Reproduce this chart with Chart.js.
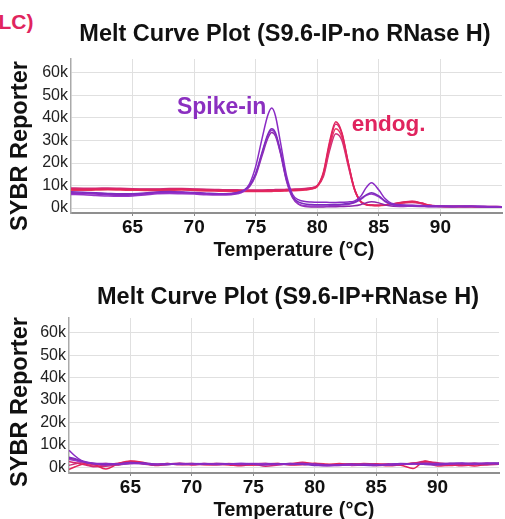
<!DOCTYPE html>
<html>
<head>
<meta charset="utf-8">
<script src="https://cdn.jsdelivr.net/npm/chart.js@4.4.1/dist/chart.umd.min.js"></script>
<style>
  body { margin: 0; background: #fff; }
  #wrap { position: relative; width: 505px; height: 519px; overflow: hidden; font-family: "Liberation Sans", Arial, sans-serif; }
  canvas { position: absolute; left: 0; }
  .txt { position: absolute; white-space: nowrap; line-height: 1; font-weight: bold; color: #111; }
  .title { font-size: 23.5px; transform: translateX(-50%); }
  .xtitle { font-size: 20px; transform: translateX(-50%); }
  .ytitle { font-size: 23.5px; transform: translate(-50%, -50%) rotate(-90deg); }
</style>
</head>
<body>
<div id="wrap">
  <div class="txt" style="left:-1.5px; top:11px; font-size:21px; color:#e0245e;">LC)</div>

  <canvas id="topChart" width="505" height="262" style="top:0"></canvas>
  <canvas id="bottomChart" width="505" height="257" style="top:262px"></canvas>

  <div class="txt title" style="left:285px; top:22px;">Melt Curve Plot (S9.6-IP-no RNase H)</div>
  <div class="txt xtitle" style="left:294px; top:238.5px;">Temperature (°C)</div>
  <div class="txt ytitle" style="left:20px; top:146px;">SYBR Reporter</div>

  <div class="txt title" style="left:288px; top:284.5px;">Melt Curve Plot (S9.6-IP+RNase H)</div>
  <div class="txt xtitle" style="left:294px; top:499px;">Temperature (°C)</div>
  <div class="txt ytitle" style="left:20px; top:402px;">SYBR Reporter</div>
</div>

<script>
// x / y ticks (temperature in °C, reporter in thousands)
const xTicks = [65, 70, 75, 80, 85, 90];
const yTicks = [0, 10, 20, 30, 40, 50, 60];

// ---------- top panel: S9.6-IP, no RNase H ----------
const tempTop = [60, 61, 62, 63, 64, 65, 66, 67, 68, 69, 70, 71, 72, 73,
  73.5, 74, 74.5, 75, 75.5, 76, 76.3, 76.6, 77, 77.5, 78, 78.5, 79, 79.5, 80, 80.5,
  81, 81.5, 82, 82.5, 83, 83.5, 84, 84.4, 85, 85.5, 86, 87, 87.7, 88.5, 89, 90, 91, 92, 93, 94, 95];

// spike-in wells (purple)
const spikeA = [6.6, 6.4, 6.2, 5.9, 5.7, 5.8, 6.2, 6.8, 7.0, 6.9, 6.6, 6.3, 6.1, 6.2,
  6.6, 7.6, 10.8, 18.5, 30.5, 41.5, 44.4, 41.0, 29.5, 14.5, 6.0, 3.6, 2.9, 2.7, 2.6, 2.6,
  2.5, 2.5, 2.6, 2.7, 3.1, 5.0, 9.3, 11.2, 8.0, 4.2, 2.2, 1.4, 1.2, 1.1, 1.0, 0.9, 0.8, 0.9, 0.8, 0.7, 0.6];
const spikeB = [7.2, 7.0, 6.8, 6.5, 6.3, 6.4, 6.7, 7.1, 7.3, 7.1, 6.9, 6.6, 6.4, 6.5,
  6.9, 7.8, 10.0, 15.5, 24.5, 33.0, 35.2, 33.5, 25.5, 13.0, 5.2, 2.6, 1.8, 1.6, 1.5, 1.5,
  1.5, 1.6, 1.7, 2.0, 2.6, 4.0, 6.0, 6.8, 5.4, 3.2, 1.8, 1.2, 1.1, 1.0, 0.9, 0.8, 0.8, 0.7, 0.8, 0.6, 0.5];
const spikeC = [6.0, 5.9, 5.6, 5.3, 5.2, 5.4, 5.8, 6.3, 6.5, 6.4, 6.2, 5.9, 5.8, 5.9,
  6.3, 7.3, 9.8, 15.0, 24.0, 32.3, 34.5, 32.8, 25.0, 12.5, 4.8, 1.8, 1.0, 0.9, 0.9, 0.9,
  1.0, 1.1, 1.3, 1.6, 2.3, 3.8, 5.6, 6.2, 5.0, 2.9, 1.5, 0.9, 0.9, 0.8, 0.7, 0.7, 0.6, 0.7, 0.6, 0.5, 0.5];
const spikeD = [6.8, 6.6, 6.5, 6.2, 6.0, 6.1, 6.5, 6.9, 7.2, 7.0, 6.7, 6.4, 6.3, 6.4,
  6.8, 7.6, 9.6, 14.5, 23.0, 31.2, 33.5, 32.0, 24.5, 12.0, 4.5, 1.6, 0.7, 0.5, 0.5, 0.5,
  0.6, 0.6, 0.7, 0.8, 1.0, 1.5, 2.4, 2.8, 2.3, 1.4, 0.9, 0.7, 0.8, 0.7, 0.6, 0.6, 0.5, 0.6, 0.5, 0.4, 0.4];

// endogenous wells (red)
const endoA = [8.3, 8.2, 8.3, 8.4, 8.3, 8.2, 8.1, 8.0, 8.2, 8.3, 8.1, 7.9, 7.8, 7.7,
  7.7, 7.6, 7.6, 7.5, 7.5, 7.6, 7.6, 7.7, 7.7, 7.8, 7.9, 8.0, 8.2, 8.6, 9.8, 16.0,
  29.5, 38.3, 33.5, 20.5, 8.8, 3.0, 1.5, 1.2, 1.1, 1.3, 1.7, 2.6, 2.9, 2.1, 1.3, 0.8, 0.7, 0.7, 0.6, 0.6, 0.5];
const endoB = [8.6, 8.5, 8.6, 8.6, 8.5, 8.4, 8.3, 8.3, 8.5, 8.5, 8.3, 8.1, 8.0, 7.9,
  7.9, 7.8, 7.8, 7.8, 7.8, 7.9, 7.9, 8.0, 8.0, 8.1, 8.2, 8.3, 8.5, 8.9, 10.0, 15.5,
  28.5, 37.3, 33.0, 20.5, 9.0, 3.2, 1.6, 1.3, 1.2, 1.4, 1.8, 2.7, 3.0, 2.2, 1.4, 0.9, 0.8, 0.8, 0.7, 0.7, 0.6];
const endoC = [7.9, 7.9, 8.0, 8.1, 8.0, 7.9, 7.8, 7.7, 7.9, 8.0, 7.8, 7.6, 7.5, 7.4,
  7.4, 7.3, 7.3, 7.3, 7.3, 7.4, 7.4, 7.5, 7.5, 7.6, 7.7, 7.8, 8.0, 8.4, 9.5, 14.8,
  27.0, 35.2, 31.5, 19.8, 8.6, 2.9, 1.4, 1.1, 1.0, 1.2, 1.6, 2.4, 2.7, 2.0, 1.2, 0.7, 0.6, 0.6, 0.5, 0.5, 0.4];
const endoD = [8.9, 8.8, 8.8, 8.9, 8.8, 8.6, 8.5, 8.5, 8.7, 8.7, 8.5, 8.3, 8.2, 8.1,
  8.1, 8.0, 8.0, 8.0, 8.0, 8.1, 8.1, 8.2, 8.2, 8.3, 8.4, 8.5, 8.7, 9.0, 9.9, 14.0,
  25.5, 33.0, 30.0, 19.0, 8.5, 3.1, 1.6, 1.3, 1.2, 1.3, 1.6, 2.2, 2.5, 1.9, 1.2, 0.8, 0.7, 0.7, 0.6, 0.6, 0.5];

// ---------- bottom panel: S9.6-IP + RNase H ----------
const tempBottom = [60, 60.5, 61, 61.5, 62, 63, 64, 65, 66, 67, 68, 69, 70, 71, 72, 73, 74, 75, 76,
  77, 78, 79, 80, 81, 82, 83, 84, 85, 86, 87, 88, 89, 90, 91, 92, 93, 94, 95];

const rnhSpikeA = [7.6, 5.0, 3.0, 2.2, 1.8, 1.6, 1.5, 1.9, 1.7, 1.3, 1.5, 1.6, 1.4, 1.5, 1.3, 1.4, 1.6, 1.5, 1.2,
  1.3, 1.4, 1.6, 1.2, 0.9, 1.0, 1.2, 1.1, 1.0, 1.3, 1.5, 1.4, 1.8, 1.6, 1.5, 1.7, 1.8, 1.6, 1.4];
const rnhSpikeB = [4.5, 3.8, 2.8, 2.0, 1.7, 1.2, 1.4, 2.1, 1.8, 1.1, 1.3, 1.5, 1.6, 1.4, 1.2, 1.5, 1.7, 1.3, 1.1,
  1.4, 1.6, 1.3, 0.8, 0.7, 1.1, 1.3, 0.9, 0.8, 1.2, 1.6, 1.5, 1.4, 1.2, 1.7, 1.9, 1.5, 1.6, 1.8];
const rnhSpikeC = [3.5, 3.0, 2.4, 1.9, 1.5, 1.0, 1.3, 1.7, 1.5, 1.2, 1.4, 1.3, 1.5, 1.6, 1.4, 1.3, 1.4, 1.6, 1.4,
  1.2, 1.5, 1.7, 1.1, 0.6, 0.9, 1.0, 1.2, 0.9, 1.1, 1.3, 1.6, 1.2, 1.0, 1.4, 1.6, 1.3, 1.9, 1.6];
const rnhSpikeD = [4.0, 3.4, 2.6, 2.1, 1.6, 1.4, 1.1, 1.6, 2.0, 1.4, 1.1, 1.7, 1.5, 1.3, 1.6, 1.5, 1.2, 1.4, 1.7,
  1.5, 1.2, 1.3, 1.4, 1.0, 0.8, 1.1, 1.4, 1.2, 0.9, 1.2, 1.7, 1.3, 1.5, 1.8, 1.4, 1.7, 1.5, 1.9];

const rnhEndoA = [-1.0, 0.2, 1.2, 1.6, 1.3, -0.8, 1.5, 2.8, 2.2, 0.9, 1.4, 1.8, 1.2, 1.6, 1.3, 1.0, 0.6, 1.5, 1.7,
  1.2, 1.4, 2.2, 1.3, 1.1, 1.7, 0.8, 1.0, 1.5, 1.1, 0.9, -0.6, 2.8, 1.4, 0.7, 1.2, 0.5, 1.3, 1.6];
const rnhEndoB = [2.5, 2.0, 1.4, 0.8, 0.5, 0.9, 1.8, 2.4, 1.6, 1.2, 1.7, 1.3, 1.0, 1.4, 1.7, 1.5, 1.1, 1.3, 0.4,
  1.0, 1.6, 1.9, 1.5, 0.8, 1.3, 1.5, 1.2, 0.7, 1.0, 1.4, 1.6, 2.4, 2.0, 1.3, 0.6, 1.1, 1.8, 1.5];
const rnhEndoC = [4.2, 3.3, 2.3, 1.6, 1.2, 1.6, 1.0, 2.6, 1.9, 0.8, 1.2, 1.5, 1.7, 1.1, 1.0, 1.6, 1.3, 0.9, 1.4,
  1.6, 1.0, 1.3, 1.8, 1.4, 0.9, 1.2, 1.6, 1.3, 0.6, 1.1, 1.9, 2.0, 0.5, 1.0, 1.5, 1.8, 1.2, 1.7];
const rnhEndoD = [0.8, 1.5, 2.0, 1.1, 0.2, 0.4, 1.2, 2.3, 1.4, 1.0, 1.6, 1.1, 1.4, 1.2, 1.5, 1.3, 1.4, 1.1, 1.3,
  1.7, 1.2, 1.1, 1.6, 1.0, 1.2, 1.4, 0.9, 1.1, 1.5, 1.2, 1.8, 2.6, 1.1, 0.9, 1.4, 1.2, 1.0, 1.3];

const purpleShades = ["#8a2bc4", "#7c2dbd", "#9a36c9", "#8e27ab"];
const redShades = ["#e3245c", "#d72770", "#ea3660", "#cc2f7c"];
const FONT = '"Liberation Sans", Arial, sans-serif';

// text labels placed in data units
const notesPlugin = {
  id: "notes",
  afterDatasetsDraw(chart, args, opts) {
    const { ctx, scales } = chart;
    (opts.items || []).forEach(n => {
      ctx.save();
      ctx.font = "bold " + n.size + "px " + FONT;
      ctx.fillStyle = n.color;
      ctx.textBaseline = "alphabetic";
      ctx.fillText(n.text, scales.x.getPixelForValue(n.x), scales.y.getPixelForValue(n.y));
      ctx.restore();
    });
  }
};

function toPoints(temps, vals) {
  return temps.map((t, i) => ({ x: t, y: vals[i] }));
}

function makeSets(temps, purpleList, redList) {
  const sets = [];
  purpleList.forEach((s, i) => sets.push({ data: toPoints(temps, s), borderColor: purpleShades[i] }));
  redList.forEach((s, i) => sets.push({ data: toPoints(temps, s), borderColor: redShades[i] }));
  return sets;
}

function makeChart(id, datasets, box, notes) {
  return new Chart(document.getElementById(id), {
    type: "line",
    data: { datasets },
    plugins: [notesPlugin],
    options: {
      responsive: false,
      animation: false,
      layout: { padding: { top: box.top, right: box.right, left: 0, bottom: 0 } },
      elements: {
        point: { radius: 0 },
        line: { borderWidth: 1.5, cubicInterpolationMode: "monotone" }
      },
      plugins: {
        legend: { display: false },
        tooltip: { enabled: false },
        notes: { items: notes }
      },
      scales: {
        x: {
          type: "linear",
          min: 60,
          max: 95,
          afterBuildTicks: s => { s.ticks = xTicks.map(v => ({ value: v })); },
          afterFit: s => { s.height = box.xHeight; },
          ticks: { color: "#111", font: { family: FONT, size: 19, weight: "bold" }, padding: 0, maxRotation: 0, autoSkip: false },
          grid: { color: "#e0e0e0", tickLength: 3, tickColor: "#888" },
          border: { color: "#8f8f8f", width: 2 }
        },
        y: {
          min: box.yMin,
          max: box.yMax,
          afterBuildTicks: s => { s.ticks = yTicks.map(v => ({ value: v })); },
          afterFit: s => { s.width = box.yWidth; },
          ticks: { color: "#222", font: { family: FONT, size: 16 }, padding: 3, callback: v => v + "k" },
          grid: { color: "#e0e0e0", drawTicks: false },
          border: { color: "#aaa", width: 1.5 }
        }
      }
    }
  });
}

makeChart("topChart",
  makeSets(tempTop, [spikeA, spikeB, spikeC, spikeD], [endoA, endoB, endoC, endoD]),
  { top: 59, right: 3, xHeight: 49, yWidth: 71, yMin: -2.2, yMax: 66.2 },
  [
    { text: "Spike-in", x: 68.6, y: 41.8, size: 23, color: "#8b2fc0" },
    { text: "endog.", x: 82.8, y: 34.0, size: 22.5, color: "#e0245e" }
  ]);

makeChart("bottomChart",
  makeSets(tempBottom, [rnhSpikeA, rnhSpikeB, rnhSpikeC, rnhSpikeD], [rnhEndoA, rnhEndoB, rnhEndoC, rnhEndoD]),
  { top: 56, right: 6, xHeight: 46, yWidth: 69, yMin: -2.6, yMax: 66.7 },
  []);
</script>
</body>
</html>
